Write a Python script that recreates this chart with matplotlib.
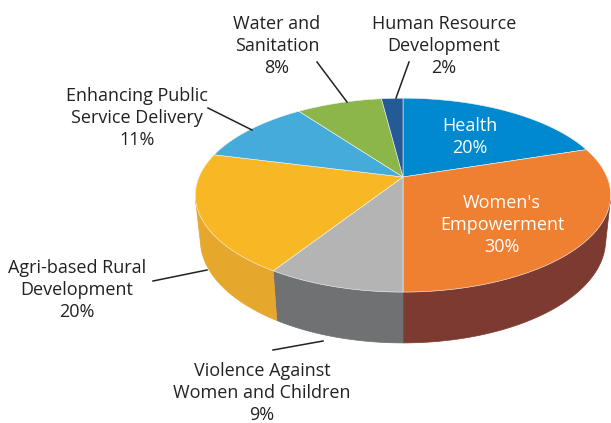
import numpy as np
import matplotlib.pyplot as plt
from matplotlib.patches import Polygon

# Data (clockwise from the top)
categories = ["Health", "Women's\nEmpowerment", "Violence Against\nWomen and Children",
              "Agri-based Rural\nDevelopment", "Enhancing Public\nService Delivery",
              "Water and\nSanitation", "Human Resource\nDevelopment"]
shares = [20, 30, 9, 20, 11, 8, 2]
top_colors = ["#0089CF", "#EF8032", "#B4B4B4", "#F8B825", "#44ABDB", "#8DB64A", "#245A95"]
side_colors = ["#006A9F", "#7D3A30", "#6F7172", "#E6A72D", "#2E8BB8", "#6E9438", "#1E4578"]

# perspective pie geometry (pixels)
elev = np.radians(27.3)
dist = 4.75
scale = 204
cx, cy = 403, 177
thick = 0.25


def project(theta, h):
    u = np.cos(theta)
    v = np.sin(theta)
    Y = v * np.sin(elev) + h * np.cos(elev)
    Z = v * np.cos(elev) - h * np.sin(elev)
    f = dist / (dist + Z)
    return np.column_stack([cx + scale * u * f, cy - scale * Y * f])


fig = plt.figure(figsize=(6.11, 4.23), dpi=100)
ax = fig.add_axes([0, 0, 1, 1])
ax.set_xlim(0, 611)
ax.set_ylim(423, 0)
ax.axis("off")

# slice angles, clockwise from 90 deg
fracs = np.array(shares) / sum(shares)
ends = 90 - 360 * np.cumsum(fracs)
starts = np.concatenate([[90], ends[:-1]])

# visible part of the outer wall
lim = np.degrees(np.arcsin(-1 / (dist * np.cos(elev))))  # about -13.7
vis_lo, vis_hi = -180 - lim, lim

for a0, a1, col in zip(starts, ends, side_colors):
    hi = min(a0, vis_hi)
    lo = max(a1, vis_lo)
    if hi <= lo:
        continue
    th = np.radians(np.linspace(hi, lo, 80))
    top = project(th, 0)
    bot = project(th[::-1], -thick)
    ax.add_patch(Polygon(np.vstack([top, bot]), closed=True, facecolor=col,
                         edgecolor=col, lw=0.5))

for a0, a1, col in zip(starts, ends, top_colors):
    th = np.radians(np.linspace(a0, a1, 120))
    arc = project(th, 0)
    pts = np.vstack([[cx, cy], arc])
    ax.add_patch(Polygon(pts, closed=True, facecolor=col, edgecolor="#f4f4f4", lw=0.4))

# labels
font = "Open Sans"
txt = "#222222"
ax.text(470, 137, "Health\n20%", color="white", fontsize=13, family=font,
        ha="center", va="center", linespacing=1.3)
ax.text(502, 225, "Women's\nEmpowerment\n30%", color="white", fontsize=13, family=font,
        ha="center", va="center", linespacing=1.3)

outside = [
    (categories[2], shares[2], 262, 393),
    (categories[3], shares[3], 77, 290),
    (categories[4], shares[4], 137, 118),
    (categories[5], shares[5], 277, 46),
    (categories[6], shares[6], 444, 46),
]
for name, val, x, y in outside:
    ax.text(x, y, f"{name}\n{val}%", color=txt, fontsize=13, family=font,
            ha="center", va="center", linespacing=1.3)

# leader lines
leaders = [
    ((273, 350), (323, 341)),
    ((153, 281), (207, 270)),
    ((208, 108), (252, 130)),
    ((317, 62), (347, 102)),
    ((409, 62), (396, 98)),
]
for (x0, y0), (x1, y1) in leaders:
    ax.plot([x0, x1], [y0, y1], color="#222222", lw=1.1)

fig.savefig("out.png", dpi=100)
